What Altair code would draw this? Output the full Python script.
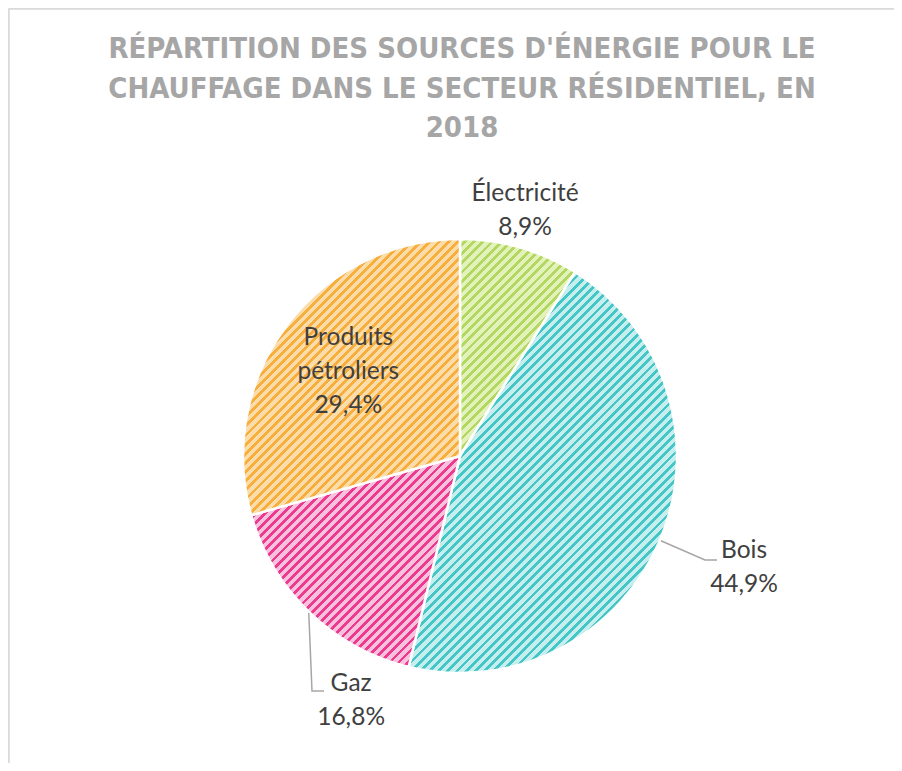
import math
import altair as alt
import pandas as pd

# ---- data -------------------------------------------------------------
categories = ["Électricité", "Bois", "Gaz", "Produits pétroliers"]
values = [8.9, 44.9, 16.8, 29.4]
value_labels = ["8,9%", "44,9%", "16,8%", "29,4%"]
name_lines = [["Électricité"], ["Bois"], ["Gaz"], ["Produits", "pétroliers"]]
title_lines = [
    "RÉPARTITION DES SOURCES D'ÉNERGIE POUR LE",
    "CHAUFFAGE DANS LE SECTEUR RÉSIDENTIEL, EN",
    "2018",
]

# ---- style / layout ---------------------------------------------------
dark = ["#b3d862", "#45c6c6", "#ec3a90", "#f7ae3c"]
light = ["#e3f2bb", "#c6eeee", "#f9c1dc", "#fcdca8"]
W, H = 886, 755
CX, CY, R = 452, 448, 217
PERIOD = 6.5  # hatch period (px, perpendicular)
DUTY = 0.42   # share of dark stripe
FONT = "Lato"
TXT = "#404040"
LH = 34
# label placement: (radius, dx, dy) for the block centre
label_pos = {
    "Électricité": (254, -5, -1),
    "Bois": (305, 3, -6),
    "Gaz": (268, 77, 52),
    "Produits pétroliers": (140, 0, 0),
}
# leader lines: extra points relative to pie centre (px)
leaders = {
    "Bois": [(245, 104), (257, 104)],
    "Gaz": [(-148, 235), (-136, 235)],
}

df = pd.DataFrame({
    "cat": categories,
    "value": values,
    "order": list(range(len(categories))),
    "label": ["\n".join(n + [v]) for n, v in zip(name_lines, value_labels)],
})

theta_scale = alt.Scale(domain=[0, 100], range=[0, 2 * math.pi])

base = alt.Chart(df).transform_window(
    cum="sum(value)", sort=[alt.SortField("order")], frame=[None, 0]
).transform_calculate(
    start="datum.cum - datum.value",
    end="datum.cum",
    mid="datum.cum - datum.value / 2",
)


def slice_bbox(a0, a1):
    pts = [(0.0, 0.0)]
    for a in [a0, a1] + [k * math.pi / 2 for k in range(5) if a0 < k * math.pi / 2 < a1]:
        pts.append((R * math.sin(a), -R * math.cos(a)))
    xs = [p[0] for p in pts]
    ys = [p[1] for p in pts]
    return max(xs) - min(xs), max(ys) - min(ys)


def hatch(i, a0, a1):
    w, h = slice_bbox(a0, a1)
    k = (w + h) / (w * w + h * h)
    n = max(4, int(round((w + h) / math.sqrt(2) / PERIOD)))
    stops = []
    for j in range(n):
        o0 = j / n
        om = (j + 1 - DUTY) / n
        o1 = (j + 1) / n
        stops += [
            alt.GradientStop(offset=o0, color=light[i]),
            alt.GradientStop(offset=om, color=light[i]),
            alt.GradientStop(offset=om, color=dark[i]),
            alt.GradientStop(offset=o1, color=dark[i]),
        ]
    return alt.LinearGradient(gradient="linear", stops=stops, x1=0, y1=0, x2=k * w, y2=k * h)


layers = []
cum = 0.0
mids = {}
for i, c in enumerate(categories):
    a0 = cum / 100 * 2 * math.pi
    cum += values[i]
    a1 = cum / 100 * 2 * math.pi
    mids[c] = (a0 + a1) / 2
    layers.append(
        base.transform_filter(alt.datum.cat == c).mark_arc(
            radius=R, stroke="white", strokeWidth=2.5, fill=hatch(i, a0, a1)
        ).encode(
            theta=alt.Theta("start:Q", scale=theta_scale),
            theta2="end:Q",
            x=alt.value(CX),
            y=alt.value(CY),
        )
    )

# leader lines
rows = []
for c, extra in leaders.items():
    a = mids[c]
    pts = [(CX + (R + 1) * math.sin(a), CY - (R + 1) * math.cos(a))]
    pts += [(CX + ex, CY + ey) for ex, ey in extra]
    for j, (x, y) in enumerate(pts):
        rows.append({"cat": c, "o": j, "x": x, "y": y})
lead_df = pd.DataFrame(rows)
layers.append(
    alt.Chart(lead_df).mark_line(color="#a6a6a6", strokeWidth=1.5).encode(
        x=alt.X("x:Q", scale=None, axis=None),
        y=alt.Y("y:Q", scale=None, axis=None),
        detail="cat:N",
        order="o:Q",
    )
)

# data labels
for i, c in enumerate(categories):
    r, dx, dy = label_pos[c]
    nlines = len(name_lines[i]) + 1
    layers.append(
        base.transform_filter(alt.datum.cat == c).mark_text(
            radius=r, dx=dx, dy=dy - (nlines - 1) * LH / 2, align="center",
            baseline="middle", lineBreak="\n", lineHeight=LH, font=FONT,
            fontSize=24.5, color=TXT,
        ).encode(
            theta=alt.Theta("mid:Q", scale=theta_scale),
            x=alt.value(CX),
            y=alt.value(CY),
            text="label:N",
        )
    )

# title
title_df = pd.DataFrame({"t": ["\n".join(title_lines)]})
layers.append(
    alt.Chart(title_df).mark_text(
        align="center", baseline="middle", lineBreak="\n", lineHeight=39.5,
        font="Liberation Sans Narrow, DejaVu Sans Condensed, DejaVu Sans",
        fontSize=29, fontWeight="bold", color="#a6a6a6",
    ).encode(x=alt.value(454), y=alt.value(41), text="t:N")
)

# chart border (top + left visible)
border_df = pd.DataFrame({"k": [0]})
layers.append(
    alt.Chart(border_df).mark_rule(color="#d9d9d9", strokeWidth=1.5).encode(
        x=alt.value(1), x2=alt.value(W), y=alt.value(1)
    )
)
layers.append(
    alt.Chart(border_df).mark_rule(color="#d9d9d9", strokeWidth=1.5).encode(
        x=alt.value(1), y=alt.value(1), y2=alt.value(H)
    )
)

chart = alt.layer(*layers).properties(
    width=W, height=H, padding=0, autosize=alt.AutoSizeParams(type="none")
).configure_view(stroke=None).configure(background="white")

chart.save("out.html", embed_options={"renderer": "svg", "actions": False})
